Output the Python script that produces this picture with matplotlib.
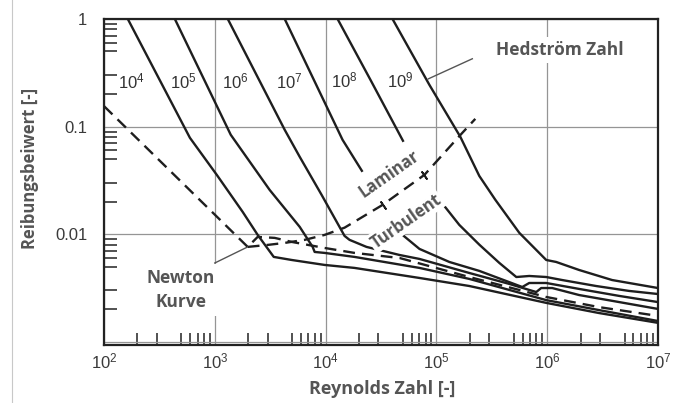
import numpy as np
import matplotlib.pyplot as plt
from matplotlib.lines import Line2D

plt.rcParams['mathtext.fontset'] = 'custom'
plt.rcParams['mathtext.rm'] = 'Liberation Sans'
plt.rcParams['mathtext.it'] = 'Liberation Sans'
plt.rcParams['font.family'] = 'Liberation Sans'

# Hedström lines (Re, f)
re_he4 = [164, 596, 1042, 1786, 2438, 3404, 4943, 9794, 18240, 70310, 198200, 979800, 2.94e6, 1e7]
f_he4 = [1.0, 0.0787, 0.0356, 0.0161, 0.00985, 0.00615, 0.00576, 0.00518, 0.00486, 0.00392, 0.0033, 0.0023, 0.00185, 0.0015]

re_he5 = [436, 1393, 3126, 5837, 7640, 7966, 9794, 18240, 70310, 198200, 979800, 2.94e6, 1e7]
f_he5 = [1.0, 0.0839, 0.0258, 0.0117, 0.00762, 0.00684, 0.0067, 0.00615, 0.00486, 0.00384, 0.00244, 0.00197, 0.00156]

re_he6 = [1310, 4276, 5837, 9204, 14830, 16440, 23390, 46480, 70310, 198200, 455000, 796100, 883000, 1.11e6, 1.941e6, 4.46e6, 1e7]
f_he6 = [1.0, 0.0933, 0.0524, 0.0232, 0.00964, 0.00886, 0.00762, 0.00641, 0.00589, 0.00436, 0.00345, 0.0029, 0.00316, 0.00316, 0.00272, 0.00234, 0.00202]

re_he7_lam = [4276, 14220, 21530]
f_he7_lam = [1.0, 0.0754, 0.038]
re_he7_turb = [49450, 70310, 130900, 243800, 595700, 688700, 979800, 1.941e6, 4.46e6, 1e7]
f_he7_turb = [0.00985, 0.0073, 0.00552, 0.00456, 0.00323, 0.00352, 0.00352, 0.0031, 0.00267, 0.00234]

re_he8_lam = [12830, 25400, 50490]
f_he8_lam = [1.0, 0.272, 0.0722]
re_he8_turb = [106400, 161000, 243800, 369700, 526300, 688700, 979800, 1.365e6, 2.762e6, 5.48e6, 1e7]
f_he8_turb = [0.0209, 0.0122, 0.008, 0.00541, 0.004, 0.00409, 0.004, 0.00375, 0.0033, 0.00297, 0.00278]

re_he9 = [40180, 86500, 164500, 243800, 340100, 559800, 979800, 1.205e6, 1.941e6, 3.852e6, 1e7]
f_he9 = [1.0, 0.244, 0.0803, 0.0348, 0.0209, 0.0103, 0.00576, 0.00552, 0.00465, 0.00375, 0.00316]

# Newton curve (dashed)
re_newton = [100, 1982, 2438, 3474, 4943, 9794, 18240, 46480, 198200, 979800, 2.94e6, 1e7]
f_newton = [0.155, 0.00762, 0.00944, 0.00924, 0.00848, 0.00745, 0.0067, 0.00601, 0.004, 0.00261, 0.0021, 0.00174]

# laminar / turbulent boundary (dashed)
re_trans = [1982, 3000, 4276, 6473, 9794, 14830, 32630, 77980, 171400, 224400]
f_trans = [0.00762, 0.00795, 0.0083, 0.00886, 0.00985, 0.0115, 0.0187, 0.0356, 0.0875, 0.118]

he_labels = ['$10^4$', '$10^5$', '$10^6$', '$10^7$', '$10^8$', '$10^9$']
he_label_x = [0.049, 0.143, 0.237, 0.334, 0.433, 0.534]
he_label_y = [0.807, 0.807, 0.807, 0.807, 0.813, 0.813]

xticks = [1e2, 1e3, 1e4, 1e5, 1e6, 1e7]
xticklabels = ['$10^2$', '$10^3$', '$10^4$', '$10^5$', '$10^6$', '$10^7$']
yticks = [1e-3, 1e-2, 1e-1, 1]
yticklabels = ['', '0.01', '0.1', '1']

# leader lines
hed_lead_re = [211000, 84700]
hed_lead_f = [0.427, 0.278]
newt_lead_re = [1000, 1982]
newt_lead_f = [0.0054, 0.00762]

fig = plt.figure(figsize=(6.76, 4.03), dpi=100)
ax = fig.add_axes([104/676, 1-345/403, 554/676, 326/403])
ax.set_xscale('log')
ax.set_yscale('log')
ax.set_xlim(1e2, 1e7)
ax.set_ylim(10**(-(345-19.3)/107.5), 1)

lc = '#1e1e1e'
lw = 1.7
for r, f in [(re_he4, f_he4), (re_he5, f_he5), (re_he6, f_he6),
             (re_he7_lam, f_he7_lam), (re_he7_turb, f_he7_turb),
             (re_he8_lam, f_he8_lam), (re_he8_turb, f_he8_turb),
             (re_he9, f_he9)]:
    ax.plot(r, f, color=lc, lw=lw, solid_capstyle='butt', zorder=3)

ax.plot(re_newton, f_newton, color=lc, lw=lw, dashes=(5, 3), zorder=3)
ax.plot(re_trans, f_trans, color=lc, lw=lw, dashes=(5, 3), zorder=3)
ax.plot(re_trans, f_trans, ls='none', marker=(2, 2, 35), ms=7, mew=1.3,
        mec=lc, markevery=[6, 7], zorder=3)

ax.plot(hed_lead_re, hed_lead_f, color='#555555', lw=1.0, zorder=2)
ax.plot(newt_lead_re, newt_lead_f, color='#555555', lw=1.0, zorder=2)

# ticks and grid
ax.set_xticks(xticks)
ax.set_xticklabels(xticklabels)
ax.set_yticks(yticks)
ax.set_yticklabels(yticklabels)
mins = [2, 3, 5, 6, 7, 8, 9]
ax.set_xticks([m * 10**d for d in range(2, 7) for m in mins], minor=True)
ax.set_yticks([m * 10**d for d in range(-4, 0) for m in mins if m * 10**d > 0.00094], minor=True)
ax.xaxis.set_minor_formatter(plt.NullFormatter())
ax.yaxis.set_minor_formatter(plt.NullFormatter())
ax.tick_params(which='major', length=0, labelsize=12, labelcolor='#3a3a3a')
ax.tick_params(axis='x', which='major', pad=5)
ax.tick_params(axis='y', which='major', pad=12)
ax.tick_params(which='minor', direction='in', length=9, width=1.1, color='#222222')
ax.grid(True, which='major', color='#959595', lw=0.9)
ax.set_axisbelow(True)
for s in ax.spines.values():
    s.set_linewidth(1.6)
    s.set_color('#222222')

# labels inside the plot
for lab, x, y in zip(he_labels, he_label_x, he_label_y):
    ax.text(x, y, lab, transform=ax.transAxes, ha='center', va='center',
            fontsize=12, color='#333333')

lab_font = dict(family='Open Sans', weight='bold', color='#555555')
ax.text(0.823, 0.905, 'Hedström Zahl', transform=ax.transAxes, ha='center', va='center',
        fontsize=12.5, bbox=dict(fc='white', ec='none', pad=3), zorder=4, **lab_font)
ax.text(0.139, 0.169, 'Newton\nKurve', transform=ax.transAxes, ha='center', va='center',
        fontsize=12.5, linespacing=1.4, bbox=dict(fc='white', ec='none', pad=4), zorder=4, **lab_font)
ax.text(0.514, 0.525, 'Laminar', transform=ax.transAxes, ha='center', va='center',
        rotation=35, rotation_mode='anchor', fontsize=12, zorder=4, **lab_font)
ax.text(0.545, 0.380, 'Turbulent', transform=ax.transAxes, ha='center', va='center',
        rotation=35, rotation_mode='anchor', fontsize=12, zorder=4,
        bbox=dict(fc='white', ec='none', pad=1), **lab_font)

fig.text(382/676, 1-389/403, 'Reynolds Zahl [-]', ha='center', va='center', fontsize=13, **lab_font)
fig.text(30/676, 1-168/403, 'Reibungsbeiwert [-]', ha='center', va='center', rotation=90,
         fontsize=12, **lab_font)

fig.add_artist(Line2D([12/676, 12/676], [0, 1], color='#c8c8c8', lw=0.8))

fig.savefig('out.png', dpi=100, facecolor='white')
